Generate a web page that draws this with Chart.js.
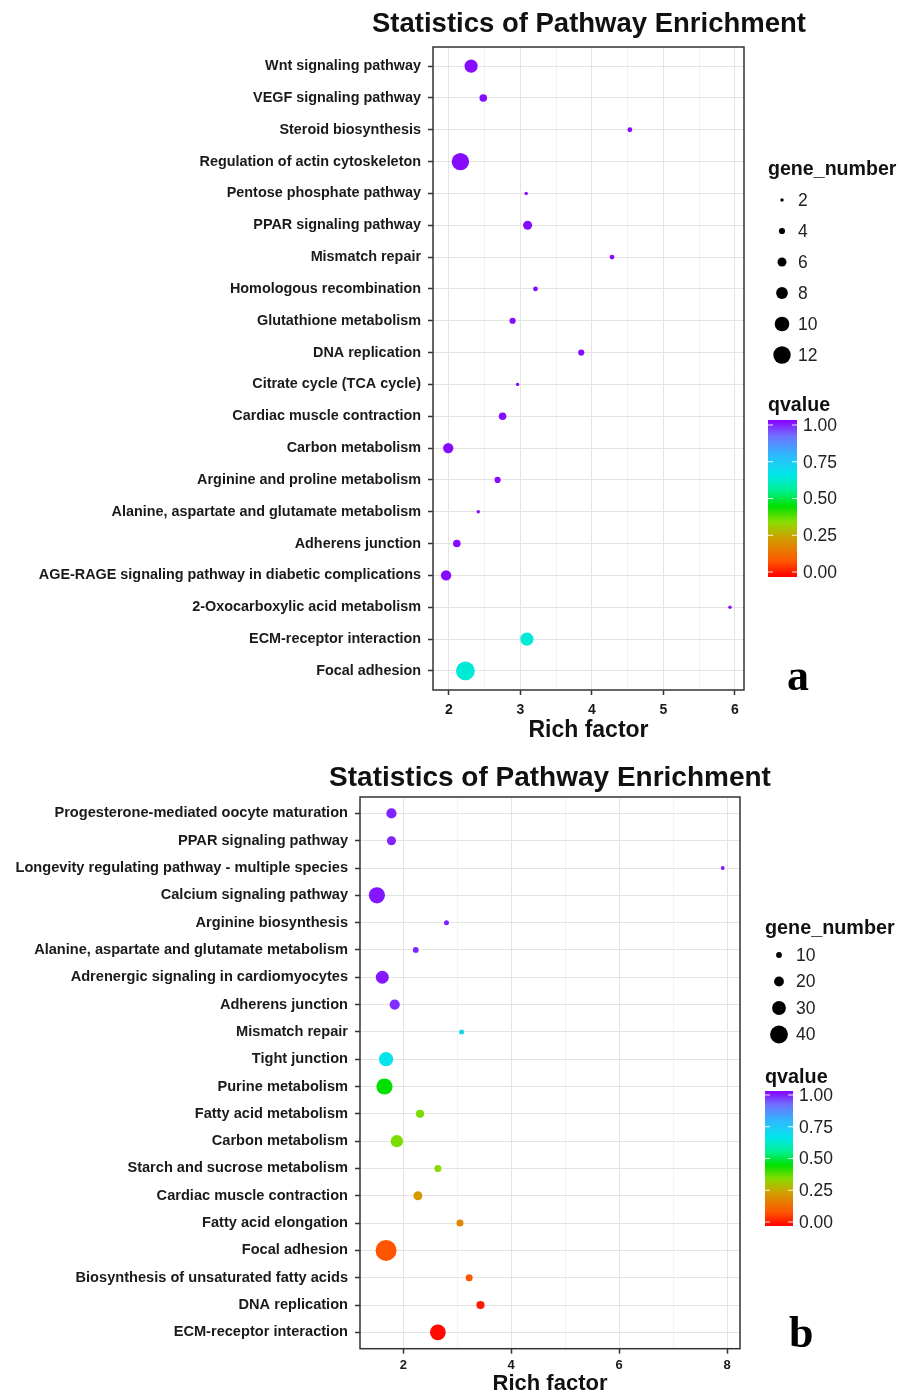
<!DOCTYPE html>
<html>
<head>
<meta charset="utf-8">
<script src="https://cdn.jsdelivr.net/npm/chart.js@4.4.1/dist/chart.umd.min.js"></script>
<style>
  html,body{margin:0;padding:0;background:#fff;}
  #wrap{position:relative;width:899px;height:1396px;overflow:hidden;}
  .pane{position:absolute;left:0;width:899px;}
  .tag{position:absolute;font-family:"Liberation Serif","DejaVu Serif",serif;font-weight:bold;font-size:44px;color:#000;line-height:1;}
</style>
</head>
<body>
<div id="wrap">
  <div class="pane" style="top:0;height:745px"><canvas id="ca" width="899" height="745"></canvas></div>
  <div class="pane" style="top:745px;height:651px"><canvas id="cb" width="899" height="651"></canvas></div>
  <div class="tag" style="left:787px;top:654px">a</div>
  <div class="tag" style="left:789px;top:1311px">b</div>
</div>
<script>
// ---------- Data: panel a ----------
const pathwaysA = [
  "Wnt signaling pathway","VEGF signaling pathway","Steroid biosynthesis",
  "Regulation of actin cytoskeleton","Pentose phosphate pathway","PPAR signaling pathway",
  "Mismatch repair","Homologous recombination","Glutathione metabolism","DNA replication",
  "Citrate cycle (TCA cycle)","Cardiac muscle contraction","Carbon metabolism",
  "Arginine and proline metabolism","Alanine, aspartate and glutamate metabolism",
  "Adherens junction","AGE-RAGE signaling pathway in diabetic complications",
  "2-Oxocarboxylic acid metabolism","ECM-receptor interaction","Focal adhesion"
];
const richA  = [2.31,2.48,4.53,2.16,3.08,3.10,4.28,3.21,2.89,3.85,2.96,2.75,1.99,2.68,2.41,2.11,1.96,5.93,3.09,2.23];
const genesA = [9,5,3,12,2,6,3,3,4,4,2,5,7,4,2,5,7,2,9,13];
const qvalA  = [0.99,0.99,0.99,0.99,0.99,0.99,0.99,0.99,0.99,0.99,0.99,0.99,0.99,0.99,0.99,0.99,0.99,0.99,0.63,0.63];
const xMajorA = [2,3,4,5,6];
const xMinorA = [2.5,3.5,4.5,5.5];
const sizeBreaksA = [2,4,6,8,10,12];

// ---------- Data: panel b ----------
const pathwaysB = [
  "Progesterone-mediated oocyte maturation","PPAR signaling pathway",
  "Longevity regulating pathway - multiple species","Calcium signaling pathway",
  "Arginine biosynthesis","Alanine, aspartate and glutamate metabolism",
  "Adrenergic signaling in cardiomyocytes","Adherens junction","Mismatch repair",
  "Tight junction","Purine metabolism","Fatty acid metabolism","Carbon metabolism",
  "Starch and sucrose metabolism","Cardiac muscle contraction","Fatty acid elongation",
  "Focal adhesion","Biosynthesis of unsaturated fatty acids","DNA replication",
  "ECM-receptor interaction"
];
const richB  = [1.78,1.78,7.92,1.51,2.80,2.23,1.61,1.84,3.08,1.68,1.65,2.31,1.88,2.64,2.27,3.05,1.68,3.22,3.43,2.64];
const genesB = [21,18,5,36,8,10,28,21,8,31,36,16,26,13,18,13,48,13,16,35];
const qvalB  = [0.97,0.97,0.98,0.98,0.97,0.97,0.98,0.96,0.70,0.66,0.45,0.36,0.36,0.35,0.24,0.20,0.10,0.10,0.03,0.01];
const xMajorB = [2,4,6,8];
const xMinorB = [3,5,7];
const sizeBreaksB = [10,20,30,40];

const qBreaks = [0,0.25,0.5,0.75,1];
const qLabels = ["0.00","0.25","0.50","0.75","1.00"];

// ---------- colour scale ----------
const qStops = [[0,'#ff0000'],[0.1,'#ff5500'],[0.25,'#d0a000'],[0.35,'#88dd00'],[0.45,'#00e000'],
                [0.55,'#00f090'],[0.65,'#00e8e8'],[0.78,'#30b8ff'],[0.9,'#7070ff'],[1,'#8a00ff']];
function hex2rgb(h){return [parseInt(h.slice(1,3),16),parseInt(h.slice(3,5),16),parseInt(h.slice(5,7),16)];}
function qColor(q){
  for(let i=1;i<qStops.length;i++){
    if(q<=qStops[i][0]){
      const [a0,c0]=qStops[i-1],[a1,c1]=qStops[i];
      const t=(q-a0)/(a1-a0), p=hex2rgb(c0), s=hex2rgb(c1);
      const m=p.map((v,k)=>Math.round(v+(s[k]-v)*t));
      return `rgb(${m[0]},${m[1]},${m[2]})`;
    }
  }
  return qStops[qStops.length-1][1];
}
const radA = n => 0.7*n + 0.3;
const radB = n => 0.2*n + 0.9;

const FONT = '"Liberation Sans", Arial, sans-serif';

const overlay = {
  id:'overlay',
  afterDatasetsDraw(chart, args, o){
    const ctx = chart.ctx, ca = chart.chartArea;
    ctx.save();
    // panel border
    ctx.strokeStyle = '#333'; ctx.lineWidth = 1.5;
    ctx.strokeRect(ca.left, ca.top, ca.right-ca.left, ca.bottom-ca.top);
    // title
    ctx.fillStyle = '#111';
    ctx.font = `bold ${o.titleSize}px ${FONT}`;
    ctx.textAlign = 'center'; ctx.textBaseline = 'middle';
    ctx.fillText('Statistics of Pathway Enrichment', o.titleX, o.titleY);
    // size legend
    ctx.textAlign = 'left';
    ctx.font = `bold ${o.legTitleSize}px ${FONT}`;
    ctx.fillText('gene_number', o.legX, o.legTitleY);
    ctx.font = `${o.legLabSize}px ${FONT}`;
    o.breaks.forEach((b,i)=>{
      const y = o.legY0 + i*o.legDy;
      ctx.fillStyle = '#000';
      ctx.beginPath(); ctx.arc(o.dotX, y, o.rad(b), 0, Math.PI*2); ctx.fill();
      ctx.fillStyle = '#222';
      ctx.fillText(String(b), o.labX, y+1);
    });
    // colour bar
    ctx.fillStyle = '#111';
    ctx.font = `bold ${o.legTitleSize}px ${FONT}`;
    ctx.fillText('qvalue', o.legX, o.qTitleY);
    const g = ctx.createLinearGradient(0, o.barBottom, 0, o.barTop);
    qStops.forEach(([s,c])=>g.addColorStop(s,c));
    ctx.fillStyle = g;
    ctx.fillRect(o.barX, o.barTop, o.barW, o.barBottom-o.barTop);
    ctx.font = `${o.legLabSize}px ${FONT}`;
    const y0 = o.barBottom - o.inset, y1 = o.barTop + o.inset;
    qBreaks.forEach((q,i)=>{
      const y = y0 - q*(y0-y1);
      ctx.strokeStyle = 'rgba(255,255,255,0.9)'; ctx.lineWidth = 1;
      ctx.beginPath(); ctx.moveTo(o.barX, y); ctx.lineTo(o.barX+5, y);
      ctx.moveTo(o.barX+o.barW-5, y); ctx.lineTo(o.barX+o.barW, y); ctx.stroke();
      ctx.fillStyle = '#222';
      ctx.fillText(qLabels[i], o.barX+o.barW+6, y+1);
    });
    ctx.restore();
  }
};

function makeChart(id, cfg){
  const n = cfg.labels.length;
  const pts = cfg.labels.map((_,i)=>({x:cfg.rich[i], y:i, r:cfg.rad(cfg.genes[i])}));
  const cols = cfg.q.map(qColor);
  const xTicks = cfg.major.concat(cfg.minor).sort((a,b)=>a-b);
  return new Chart(document.getElementById(id), {
    type:'bubble',
    data:{datasets:[{data:pts, backgroundColor:cols, borderWidth:0, hoverBorderWidth:0}]},
    plugins:[overlay],
    options:{
      responsive:false, animation:false, events:[],
      layout:{padding:{top:cfg.padTop, right:cfg.padRight, left:0, bottom:0}},
      plugins:{legend:{display:false}, tooltip:{enabled:false}, title:{display:false},
        overlay:cfg.overlay},
      scales:{
        x:{type:'linear', min:cfg.xmin, max:cfg.xmax,
          afterBuildTicks: s => { s.ticks = xTicks.map(v=>({value:v})); },
          afterFit: s => { s.height = cfg.xAxisH; },
          border:{display:false},
          grid:{color: c => cfg.major.includes(c.tick && c.tick.value) ? '#e4e4e4' : '#f3f3f3',
                lineWidth:1, drawTicks:true, tickLength:5, tickWidth:1.5,
                tickColor: c => cfg.major.includes(c.tick && c.tick.value) ? '#333' : 'rgba(0,0,0,0)'},
          ticks:{autoSkip:false, maxRotation:0, padding:cfg.xTickPad, color:'#1a1a1a',
                 font:{family:FONT, size:cfg.xTickSize, weight:'bold'},
                 callback: v => cfg.major.includes(v) ? String(v) : ''},
          title:{display:true, text:'Rich factor', color:'#111',
                 font:{family:FONT, size:cfg.xTitleSize, weight:'bold', lineHeight:1},
                 padding:{top:0, bottom:cfg.xTitlePad}}
        },
        y:{type:'linear', reverse:true, min:-0.6, max:n-1+0.6,
          afterBuildTicks: s => { s.ticks = cfg.labels.map((_,i)=>({value:i})); },
          afterFit: s => { s.width = cfg.yAxisW; },
          border:{display:false},
          grid:{color:'#e4e4e4', lineWidth:1, drawTicks:true, tickLength:5, tickWidth:1.5, tickColor:'#333'},
          ticks:{autoSkip:false, padding:7, color:'#1a1a1a',
                 font:{family:FONT, size:cfg.yTickSize, weight:'bold'},
                 callback: v => cfg.labels[v]}
        }
      }
    }
  });
}

makeChart('ca', {
  labels:pathwaysA, rich:richA, genes:genesA, q:qvalA, rad:radA,
  major:xMajorA, minor:xMinorA, xmin:1.777, xmax:6.126,
  padTop:47, padRight:155, xAxisH:55, yAxisW:433,
  xTickSize:14, xTickPad:7, yTickSize:14.4, xTitleSize:23, xTitlePad:3,
  overlay:{titleSize:27.5, titleX:589, titleY:24,
    legX:768, legTitleY:170, legTitleSize:19.6, legLabSize:17.5,
    breaks:sizeBreaksA, rad:radA, dotX:782, labX:798, legY0:200, legDy:31,
    qTitleY:406, barX:768, barW:29, barTop:420, barBottom:577, inset:5}
});

makeChart('cb', {
  labels:pathwaysB, rich:richB, genes:genesB, q:qvalB, rad:radB,
  major:xMajorB, minor:xMinorB, xmin:1.197, xmax:8.24,
  padTop:52, padRight:159, xAxisH:47.3, yAxisW:360,
  xTickSize:13, xTickPad:4, yTickSize:14.6, xTitleSize:22, xTitlePad:1,
  overlay:{titleSize:28, titleX:550, titleY:33,
    legX:765, legTitleY:184, legTitleSize:19.8, legLabSize:17.5,
    breaks:sizeBreaksB, rad:radB, dotX:779, labX:796, legY0:210, legDy:26.5,
    qTitleY:333, barX:765, barW:28, barTop:346, barBottom:481, inset:4}
});
</script>
</body>
</html>
